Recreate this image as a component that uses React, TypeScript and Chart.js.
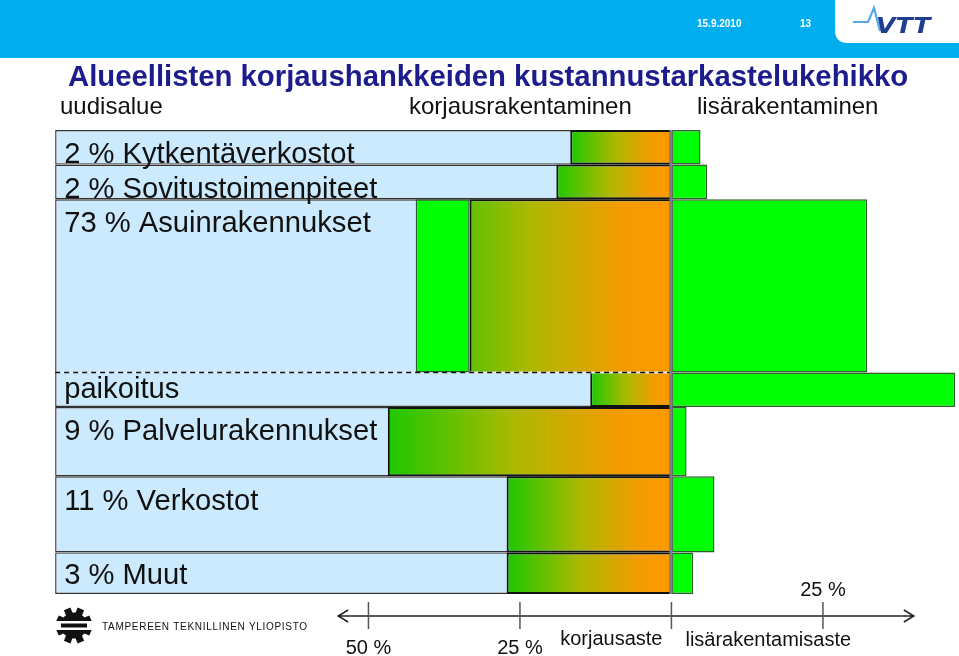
import React, { useEffect, useRef } from 'react';
import { Chart, registerables } from 'chart.js';

Chart.register(...registerables);

// ---------------- data ----------------
const slideTitle = 'Alueellisten korjaushankkeiden kustannustarkastelukehikko';
const slideDate = '15.9.2010';
const slideNumber = '13';
const universityName = 'TAMPEREEN TEKNILLINEN YLIOPISTO';
const columnHeaders = ['uudisalue', 'korjausrakentaminen', 'lisärakentaminen'];

const rowLabels = [
  '2 % Kytkentäverkostot',
  '2 % Sovitustoimenpiteet',
  '73 % Asuinrakennukset',
  'paikoitus',
  '9 % Palvelurakennukset',
  '11 % Verkostot',
  '3 % Muut',
];
// relative row heights (row weights on the y scale)
const rowWeights = [1, 1, 5, 1, 2, 2.2, 1.2];
// korjausaste (repair share, drawn to the left of 0, %)
const korjausaste = [-16.7, -19.0, -33.3, -13.4, -46.8, -27.2, -27.2];
// lisärakentamisaste (infill construction share, to the right of 0, %)
const lisarakentamisaste = [4.8, 5.9, 32.3, 46.8, 2.5, 7.1, 3.6];
// uudisalue part inside the row (start of the left green block, %)
const uudisalueOsuus: (number | null)[] = [null, null, -42.2, null, null, null, null];
// left edge of the "uudisalue" panel (%)
const uudisalueRaja = -101.7;
// dashed boundary below this row index
const dashedAfterRow = 2;

const axisTicks = [-50, -25, 0, 25];
const axisLabelsBelow = ['50 %', '25 %', '', ''];
const axisLabelsAbove = ['', '', '', '25 %'];
const axisRange = [-55, 40];
const axisTitles = ['korjausaste', 'lisärakentamisaste'];

// scale ranges
const X_MIN = -110.8;
const X_MAX = 47.45;
const Y_MIN = -3.754;
const Y_MAX = 15.19;

// ---------------- styles ----------------
const FONT = '"Liberation Sans", Arial, Helvetica, sans-serif';
const PANEL_BLUE = '#CCEAFD';
const PANEL_BORDER = '#333333';
const GREEN = '#00FF00';
const GREEN_BORDER = '#2C5E2C';
const labelDy = [33, 33, 33, 26, 33, 34, 32];

const rowEdges = rowWeights.reduce<number[]>((acc, w) => {
  acc.push(acc[acc.length - 1] + w);
  return acc;
}, [0]);

function korjausGradient(chart: any, from: number) {
  const xs = chart.scales.x;
  const g = chart.ctx.createLinearGradient(xs.getPixelForValue(from), 0, xs.getPixelForValue(0), 0);
  g.addColorStop(0, '#1EC800');
  g.addColorStop(0.45, '#ADB800');
  g.addColorStop(0.8, '#F29C00');
  g.addColorStop(1, '#FF9900');
  return g;
}

function buildDatasets() {
  return rowLabels.map((label, r) => {
    const c = (rowEdges[r] + rowEdges[r + 1]) / 2;
    const data: any[] = [{ y: c, x: [uudisalueRaja, 0], kind: 'panel', row: r }];
    const u = uudisalueOsuus[r];
    if (u !== null) data.push({ y: c, x: [u, korjausaste[r]], kind: 'uudis', row: r });
    data.push({ y: c, x: [korjausaste[r], 0], kind: 'korjaus', row: r });
    data.push({ y: c, x: [0, lisarakentamisaste[r]], kind: 'lisa', row: r });
    return {
      label,
      data,
      grouped: false,
      inflateAmount: 0,
      barThickness: (ctx: any) => {
        const ys = ctx.chart.scales.y;
        const v = Math.abs(ys.getPixelForValue(rowEdges[r + 1]) - ys.getPixelForValue(rowEdges[r]));
        return isFinite(v) && v > 0 ? v : 30;
      },
      backgroundColor: (ctx: any) => {
        const d = ctx.raw;
        if (!d) return PANEL_BLUE;
        if (d.kind === 'panel') return PANEL_BLUE;
        if (d.kind === 'korjaus') {
          if (!ctx.chart.chartArea) return '#FF9900';
          const s = uudisalueOsuus[d.row];
          return korjausGradient(ctx.chart, s !== null ? s : korjausaste[d.row]);
        }
        return GREEN;
      },
      borderColor: (ctx: any) => {
        const d = ctx.raw;
        if (!d) return PANEL_BORDER;
        if (d.kind === 'panel') return PANEL_BORDER;
        if (d.kind === 'korjaus') return '#111111';
        return GREEN_BORDER;
      },
      borderWidth: (ctx: any) => {
        const d = ctx.raw;
        if (!d) return 1;
        if (d.kind === 'korjaus') return 2;
        if (d.kind === 'panel') return 1.4;
        return 1.5;
      },
      borderSkipped: (ctx: any) => {
        const d = ctx.raw;
        if (!d) return false;
        if (d.kind === 'panel' || d.kind === 'korjaus') {
          if (d.row === dashedAfterRow) return 'bottom';
          if (d.row === dashedAfterRow + 1) return 'top';
        }
        return false;
      },
    };
  });
}

const decorPlugin = {
  id: 'slideDecor',
  beforeDraw(chart: any) {
    const { ctx } = chart;
    const W = chart.width;
    ctx.save();
    // header band
    ctx.fillStyle = '#00AEEF';
    ctx.fillRect(0, 0, W, 58);
    ctx.fillStyle = '#ffffff';
    ctx.beginPath();
    ctx.moveTo(835, 0);
    ctx.lineTo(835, 30);
    ctx.quadraticCurveTo(835, 43, 848, 43);
    ctx.lineTo(W, 43);
    ctx.lineTo(W, 0);
    ctx.closePath();
    ctx.fill();
    // date & page
    ctx.fillStyle = '#ffffff';
    ctx.font = `bold 10px ${FONT}`;
    ctx.textBaseline = 'alphabetic';
    ctx.textAlign = 'left';
    ctx.fillText(slideDate, 697, 27);
    ctx.fillText(slideNumber, 800, 27);
    // VTT logo
    ctx.strokeStyle = '#55A8E2';
    ctx.lineWidth = 2.2;
    ctx.beginPath();
    ctx.moveTo(853, 22);
    ctx.lineTo(868, 22);
    ctx.lineTo(874, 8);
    ctx.lineTo(880, 31);
    ctx.stroke();
    ctx.fillStyle = '#1E3F8F';
    ctx.font = `italic 900 21px "DejaVu Sans", ${FONT}`;
    ctx.save();
    ctx.translate(876, 33);
    ctx.scale(1.2, 1);
    ctx.fillText('VTT', 0, 0);
    ctx.restore();
    // title
    ctx.fillStyle = '#1C1C8C';
    ctx.font = `bold 29.3px ${FONT}`;
    ctx.fillText(slideTitle, 68, 86);
    // column headers
    ctx.fillStyle = '#111111';
    ctx.font = `24px ${FONT}`;
    ctx.fillText(columnHeaders[0], 60, 114);
    ctx.fillText(columnHeaders[1], 409, 114);
    ctx.fillText(columnHeaders[2], 697, 114);
    ctx.restore();
  },
  afterDatasetsDraw(chart: any) {
    const { ctx } = chart;
    const xs = chart.scales.x;
    const ys = chart.scales.y;
    const x0 = xs.getPixelForValue(0);
    const xPanel = xs.getPixelForValue(uudisalueRaja);
    ctx.save();

    // dashed boundary
    const yd = ys.getPixelForValue(rowEdges[dashedAfterRow + 1]);
    const xg = xs.getPixelForValue(korjausaste[dashedAfterRow]);
    ctx.strokeStyle = '#E8E8E8';
    ctx.lineWidth = 2;
    ctx.beginPath();
    ctx.moveTo(xg, yd);
    ctx.lineTo(x0, yd);
    ctx.stroke();
    ctx.strokeStyle = '#111111';
    ctx.lineWidth = 1.5;
    ctx.setLineDash([5, 4]);
    ctx.beginPath();
    ctx.moveTo(xPanel, yd);
    ctx.lineTo(x0, yd);
    ctx.stroke();
    ctx.setLineDash([]);

    // centre line
    const yTop = ys.getPixelForValue(rowEdges[0]);
    const yBot = ys.getPixelForValue(rowEdges[rowEdges.length - 1]);
    ctx.strokeStyle = '#7F7F7F';
    ctx.lineWidth = 3;
    ctx.beginPath();
    ctx.moveTo(x0 - 0.5, yTop);
    ctx.lineTo(x0 - 0.5, yBot);
    ctx.stroke();

    // row labels
    ctx.fillStyle = '#111111';
    ctx.font = `29.2px ${FONT}`;
    ctx.textAlign = 'left';
    ctx.textBaseline = 'alphabetic';
    rowLabels.forEach((lab, r) => {
      ctx.fillText(lab, xPanel + 9, ys.getPixelForValue(rowEdges[r]) + labelDy[r]);
    });

    // bottom axis
    const ya = yBot + 22;
    const xa0 = xs.getPixelForValue(axisRange[0]);
    const xa1 = xs.getPixelForValue(axisRange[1]);
    ctx.strokeStyle = '#222222';
    ctx.lineWidth = 1.5;
    ctx.beginPath();
    ctx.moveTo(xa0, ya);
    ctx.lineTo(xa1, ya);
    ctx.moveTo(xa0 + 10, ya - 6);
    ctx.lineTo(xa0, ya);
    ctx.lineTo(xa0 + 10, ya + 6);
    ctx.moveTo(xa1 - 10, ya - 6);
    ctx.lineTo(xa1, ya);
    ctx.lineTo(xa1 - 10, ya + 6);
    ctx.stroke();
    ctx.strokeStyle = '#555555';
    axisTicks.forEach((t) => {
      const x = xs.getPixelForValue(t);
      ctx.beginPath();
      ctx.moveTo(x, ya - 14);
      ctx.lineTo(x, ya + 13);
      ctx.stroke();
    });
    ctx.fillStyle = '#111111';
    ctx.font = `20px ${FONT}`;
    ctx.textAlign = 'center';
    axisTicks.forEach((t, i) => {
      const x = xs.getPixelForValue(t);
      if (axisLabelsBelow[i]) ctx.fillText(axisLabelsBelow[i], x, ya + 38);
      if (axisLabelsAbove[i]) ctx.fillText(axisLabelsAbove[i], x, ya - 20);
    });
    ctx.textAlign = 'right';
    ctx.fillText(axisTitles[0], x0 - 9, ya + 29);
    ctx.textAlign = 'left';
    ctx.fillText(axisTitles[1], x0 + 14, ya + 30);

    // university logo
    const cx = 74;
    const cy = 625.5;
    ctx.fillStyle = '#111111';
    for (let i = 0; i < 8; i++) {
      ctx.save();
      ctx.translate(cx, cy);
      ctx.rotate(i * Math.PI / 4 + Math.PI / 8);
      ctx.fillRect(-3.5, -18, 7, 8);
      ctx.restore();
    }
    ctx.beginPath();
    ctx.arc(cx, cy, 13, 0, Math.PI * 2);
    ctx.fill();
    ctx.fillStyle = '#ffffff';
    ctx.fillRect(cx - 20, cy - 4.5, 40, 9);
    ctx.fillStyle = '#111111';
    ctx.fillRect(cx - 13, cy - 2, 26, 4);
    ctx.font = `10px ${FONT}`;
    ctx.textAlign = 'left';
    (ctx as any).letterSpacing = '0.7px';
    ctx.fillText(universityName, 102, 630);
    (ctx as any).letterSpacing = '0px';

    ctx.restore();
  },
};

export default function App() {
  const ref = useRef<HTMLCanvasElement | null>(null);
  useEffect(() => {
    if (!ref.current) return;
    const chart = new Chart(ref.current, {
      type: 'bar',
      data: { datasets: buildDatasets() as any },
      options: {
        animation: false,
        responsive: false,
        indexAxis: 'y',
        events: [],
        layout: { padding: 0 },
        plugins: {
          legend: { display: false },
          tooltip: { enabled: false },
          title: { display: false },
        },
        scales: {
          x: { type: 'linear', min: X_MIN, max: X_MAX, display: false, bounds: 'data' },
          y: { type: 'linear', min: Y_MIN, max: Y_MAX, reverse: true, display: false, offset: false, bounds: 'data' },
        },
      } as any,
      plugins: [decorPlugin],
    });
    return () => chart.destroy();
  }, []);
  return (
    <div style={{ position: 'absolute', left: 0, top: 0, width: 959, height: 656, background: '#fff' }}>
      <canvas ref={ref} width={959} height={656} style={{ display: 'block', width: 959, height: 656 }} />
    </div>
  );
}
